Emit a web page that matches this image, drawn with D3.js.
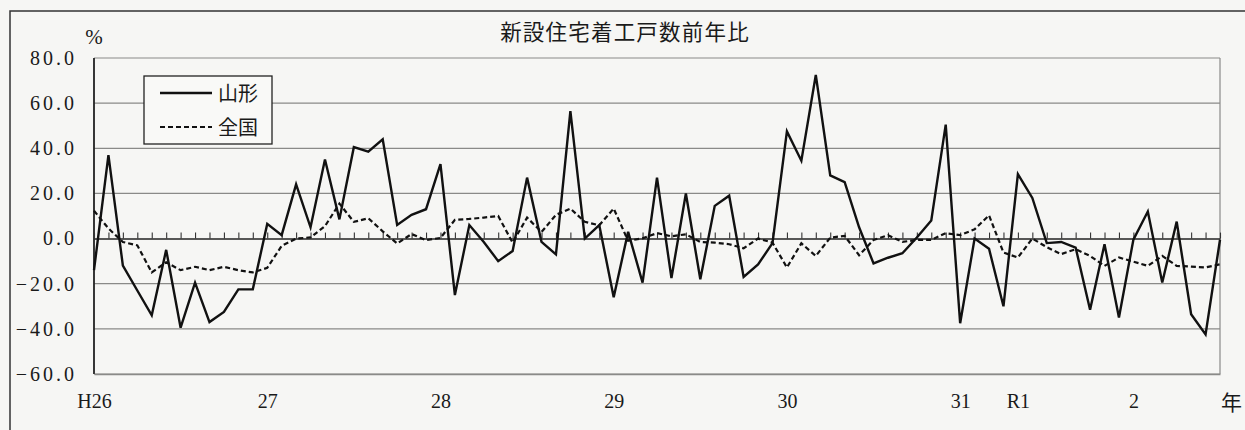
<!DOCTYPE html>
<html>
<head>
<meta charset="utf-8">
<script src="https://cdn.jsdelivr.net/npm/d3@7"></script>
<style>
  body{margin:0;background:#f6f6f4;}
  svg{display:block;}
</style>
</head>
<body>
<div id="grafico"></div>
<script>
// dados (variacao % sobre o ano anterior, mensal, jan/2014 - jul/2020)
const meses = d3.timeMonth.range(new Date(2014,0,1), new Date(2020,7,1)).map(d3.timeFormat('%Y-%m'));

const yamagata = [
  -14, 37, -12, -23, -34, -5, -39.5, -19.5, -37, -32.5, -22.5, -22.5,
  6.5, 1.5, 24, 5, 35, 8.5, 40.5, 38.5, 44, 6, 10.5, 13,
  33, -25, 6, -1.5, -10, -5.5, 27, -1.5, -7, 56.5, 0, 6,
  -26, 3, -19.5, 27, -17.5, 20, -18, 14.5, 19, -17, -11.5, -2,
  47.5, 34.5, 72.5, 28, 25, 5, -11, -8.5, -6.5, 0.5, 8, 50.5,
  -37.5, 0, -4.5, -30, 28.5, 18, -2, -1.5, -4, -31.5, -2.5, -35,
  -0.5, 12, -19.5, 7.5, -33.5, -42.5, -0.5
];

const zenkoku = [
  12.3, 4.5, -1.5, -3, -15, -10.5, -14, -12.5, -14, -12.5, -14, -15,
  -13, -3.2, 0, 0.5, 5.5, 15.5, 7.4, 9, 3.2, -2.2, 2, -0.7,
  0.3, 8.3, 8.7, 9.3, 10, -1.8, 9.3, 2.9, 10.5, 13.3, 7.4, 5.9,
  13.3, -1, 0.1, 2.4, 1, 1.9, -1.5, -1.8, -2.5, -4.3, 0, -1.8,
  -12.8, -2.1, -7.7, 0.4, 1.2, -7.4, -0.6, 1.5, -1.5, -0.6, -0.6, 2.4,
  1.5, 4.1, 10.3, -6.2, -8.4, 0, -3.8, -6.9, -4.7, -7.7, -12.1, -8.4,
  -10.2, -12.1, -7.7, -12.1, -12.4, -12.8, -11.4
];

const yTicks = [-60, -40, -20, 0, 20, 40, 60, 80];
const xLabelMeses = ['2014-01','2015-01','2016-01','2017-01','2018-01','2019-01','2019-05','2020-01'];
const xLabels = ['H26','27','28','29','30','31','R1','2'];
const serieNomes = ['山形','全国'];
const titulo = '新設住宅着工戸数前年比';

const largura = 1245, altura = 430;
const esq = 94, dir = 1220, topo = 58, baixo = 374;
const serif = '"Liberation Serif","DejaVu Serif",serif';
const cjk = '"Noto Sans CJK JP","Noto Sans",sans-serif';

const svg = d3.select('#grafico').append('svg')
  .attr('width', largura).attr('height', altura);

const x = d3.scalePoint().domain(meses).range([esq, dir]);
const y = d3.scaleLinear().domain([-60, 80]).range([baixo, topo]);

// moldura externa
svg.append('path')
  .attr('d', 'M10,' + altura + ' V11 H' + largura)
  .attr('fill', 'none').attr('stroke', '#333').attr('stroke-width', 1.5);

// titulo
svg.append('text')
  .attr('x', 625).attr('y', 40)
  .attr('text-anchor', 'middle')
  .attr('font-family', cjk).attr('font-size', 21.5)
  .attr('letter-spacing', 1.2)
  .attr('fill', '#1a1a1a')
  .text(titulo);

svg.append('text')
  .attr('x', 94).attr('y', 44)
  .attr('text-anchor', 'middle')
  .attr('font-family', serif).attr('font-size', 21)
  .attr('fill', '#1a1a1a')
  .text('%');

// grade horizontal
svg.append('g').selectAll('line')
  .data(yTicks.filter(d => d !== 0))
  .join('line')
  .attr('x1', esq).attr('x2', dir)
  .attr('y1', d => y(d)).attr('y2', d => y(d))
  .attr('stroke', '#8a8a88').attr('stroke-width', 1.2);

// borda direita
svg.append('line')
  .attr('x1', dir).attr('x2', dir).attr('y1', topo).attr('y2', baixo)
  .attr('stroke', '#8a8a88').attr('stroke-width', 1.2);

// eixo y
const eixoY = svg.append('g')
  .attr('transform', 'translate(' + esq + ',0)')
  .call(d3.axisLeft(y).tickValues(yTicks).tickFormat(d3.format('.1f')).tickSize(0).tickPadding(17));
eixoY.select('.domain').remove();
eixoY.selectAll('text')
  .attr('font-family', serif).attr('font-size', 20)
  .attr('letter-spacing', 3).attr('fill', '#1a1a1a');

svg.append('line')
  .attr('x1', esq).attr('x2', esq).attr('y1', topo).attr('y2', baixo)
  .attr('stroke', '#222').attr('stroke-width', 1.8);

// linha do zero com marquinhas mensais
const eixoZero = svg.append('g')
  .attr('transform', 'translate(0,' + y(0) + ')')
  .call(d3.axisTop(x).tickSize(6).tickSizeOuter(0).tickFormat(''));
eixoZero.select('.domain').attr('stroke', '#222').attr('stroke-width', 1.4);
eixoZero.selectAll('.tick line').attr('stroke', '#333').attr('stroke-width', 1.1);

// rotulos dos anos
const eixoX = svg.append('g')
  .attr('transform', 'translate(0,' + baixo + ')')
  .call(d3.axisBottom(x).tickValues(xLabelMeses)
    .tickFormat((d, i) => xLabels[i]).tickSize(0).tickPadding(20));
eixoX.select('.domain').attr('stroke', '#8a8a88').attr('stroke-width', 1.4);
eixoX.selectAll('text')
  .attr('font-family', serif).attr('font-size', 20).attr('fill', '#1a1a1a');

svg.append('text')
  .attr('x', dir + 1).attr('y', 410)
  .attr('font-family', cjk).attr('font-size', 21)
  .attr('fill', '#1a1a1a')
  .text('年');

// series
const linha = d3.line()
  .x((d, i) => x(meses[i]))
  .y(d => y(d));

svg.append('path')
  .datum(zenkoku)
  .attr('d', linha)
  .attr('fill', 'none').attr('stroke', '#111')
  .attr('stroke-width', 2.2).attr('stroke-dasharray', '5,3');

svg.append('path')
  .datum(yamagata)
  .attr('d', linha)
  .attr('fill', 'none').attr('stroke', '#111')
  .attr('stroke-width', 2.4).attr('stroke-linejoin', 'miter');

// legenda
const leg = svg.append('g');
leg.append('rect')
  .attr('x', 144).attr('y', 76).attr('width', 128).attr('height', 68)
  .attr('fill', '#f9f9f7').attr('stroke', '#222').attr('stroke-width', 1.3);

leg.selectAll('line.leg')
  .data(serieNomes)
  .join('line')
  .attr('class', 'leg')
  .attr('x1', 160).attr('x2', 212)
  .attr('y1', (d, i) => 93 + i * 34).attr('y2', (d, i) => 93 + i * 34)
  .attr('stroke', '#111').attr('stroke-width', (d, i) => i ? 2.2 : 2.4)
  .attr('stroke-dasharray', (d, i) => i ? '5,3' : null);

leg.selectAll('text')
  .data(serieNomes)
  .join('text')
  .attr('x', 218).attr('y', (d, i) => 101 + i * 34)
  .attr('font-family', cjk).attr('font-size', 20)
  .attr('fill', '#1a1a1a')
  .text(d => d);
</script>
</body>
</html>
